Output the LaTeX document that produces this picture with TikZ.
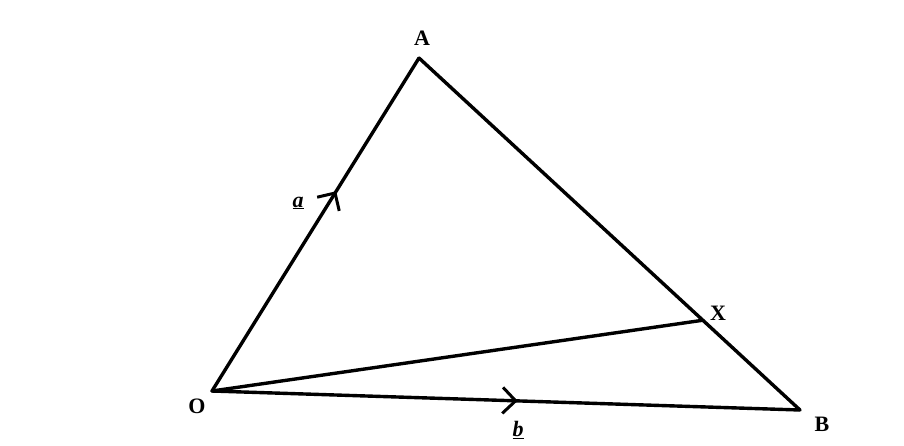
\documentclass[tikz,border=0pt]{standalone}
\usepackage{fontspec}
\setmainfont{Liberation Serif}
\usetikzlibrary{arrows.meta,positioning,calc,decorations.markings}
\tikzstyle{side} = [line width=3.4pt, line cap=round, line join=round, color=black]
\tikzstyle{midarrow} = [postaction={decorate}, decoration={markings, mark=at position #1 with {\arrow{Straight Barb[length=13pt,width=26pt,line width=3pt]}}}]
\tikzstyle{ptlabel} = [font=\fontsize{22}{24}\selectfont\bfseries, inner sep=0pt]
\tikzstyle{veclabel} = [font=\fontsize{22}{24}\selectfont\bfseries\itshape, inner sep=0pt]
\newcommand{\vecul}[1]{\underline{#1}}

\begin{document}
\begin{tikzpicture}[x=1pt,y=-1pt]
\useasboundingbox (0,0) rectangle (904,445);
% Points
\coordinate (O) at (212,391);
\coordinate (A) at (419,58);
\coordinate (B) at (800,410);
\coordinate (X) at ($(A)!0.745!(B)$);
% Sides
\draw[side, midarrow=0.6] (O) -- (A);
\draw[side] (A) -- (B);
\draw[side, midarrow=0.52] (O) -- (B);
\draw[side] (O) -- (X);
% Labels
\node[ptlabel] (labA) at (422,38) {A};
\node[ptlabel] (labO) at (197,406) {O};
\node[ptlabel] (labB) at (822,424) {B};
\node[ptlabel] (labX) at (718,313) {X};
\node[veclabel] (laba) at (298,203) {\vecul{a}};
\node[veclabel] (labb) at (518,430) {\vecul{b}};
\end{tikzpicture}
\end{document}
